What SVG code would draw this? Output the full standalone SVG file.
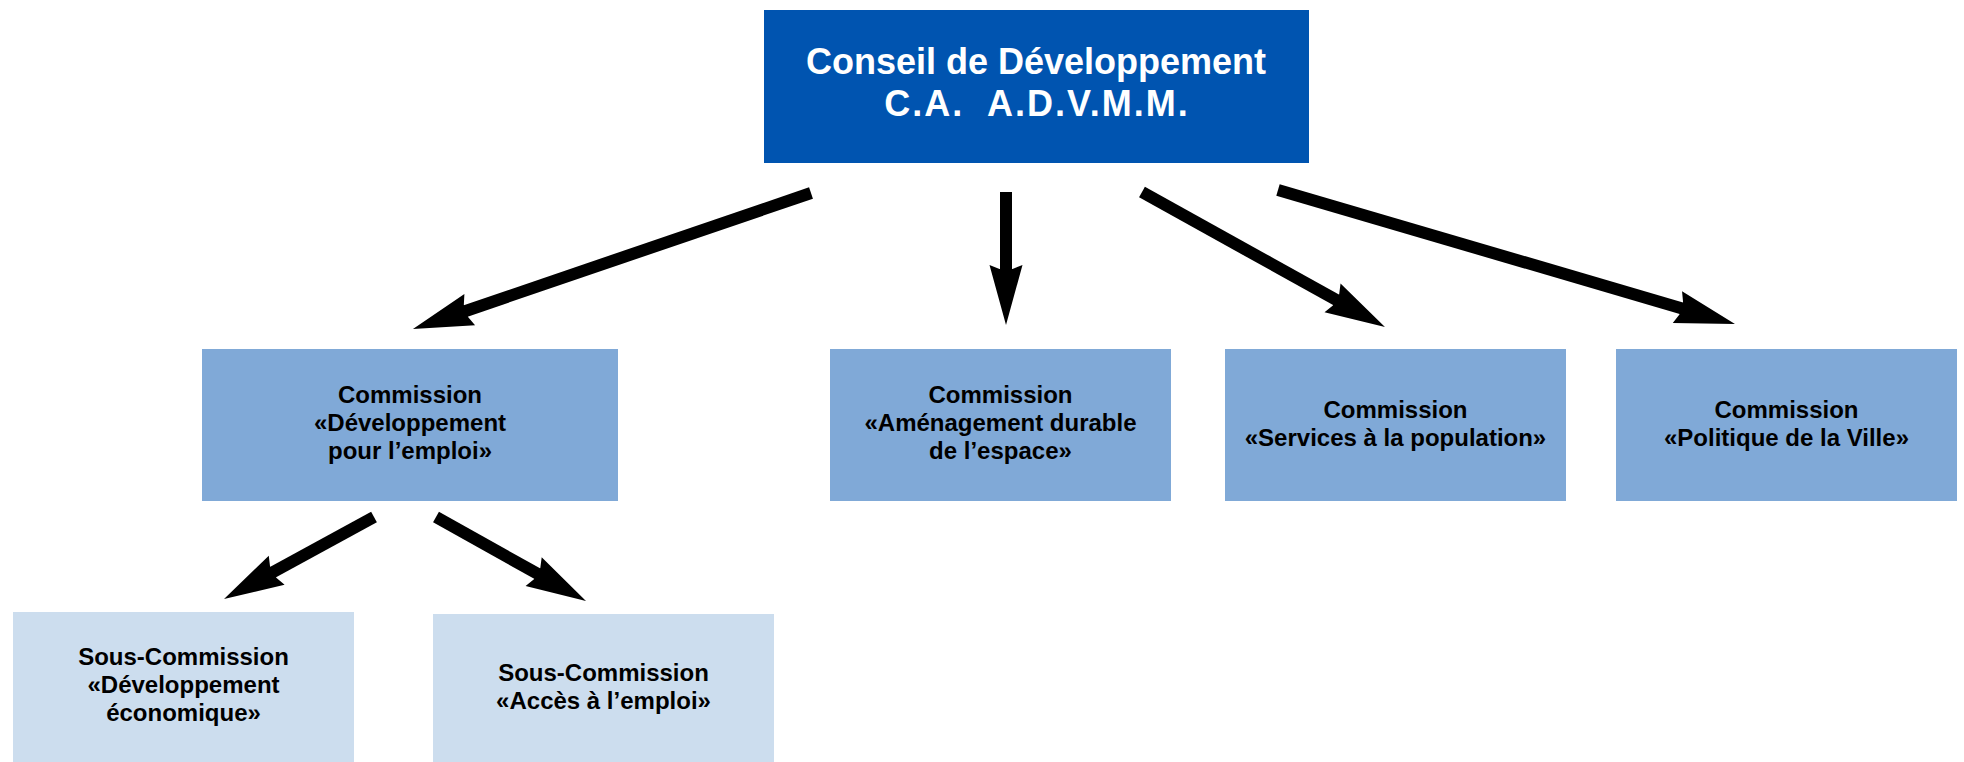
<svg xmlns="http://www.w3.org/2000/svg" width="1964" height="762" viewBox="0 0 1964 762">
  <style>
    .top { fill: #0054B0; }
    .com { fill: #80A9D7; }
    .sub { fill: #CCDDEE; }
    .title { font-family: "Liberation Sans", Arial, sans-serif; font-weight: bold; font-size: 36px; fill: #FFFFFF; text-anchor: middle; }
    .label { font-family: "Liberation Sans", Arial, sans-serif; font-weight: bold; font-size: 24px; fill: #000000; text-anchor: middle; }
    .arrow { stroke: #000000; stroke-width: 12; fill: none; stroke-linecap: butt; marker-end: url(#head); }
  </style>
  <defs>
    <!-- barbed arrowhead; the line ends at the neck, the tip sits 55 units further on -->
    <marker id="head" markerUnits="userSpaceOnUse" orient="auto" refX="0" refY="0" markerWidth="80" markerHeight="40" overflow="visible">
      <path d="M55,0 L-5,-16.5 L-1,-6.5 L-1,6.5 L-5,16.5 Z" fill="#000000"/>
    </marker>
  </defs>

  <rect width="1964" height="762" fill="#FFFFFF"/>

  <g id="conseil">
    <rect class="top" x="764" y="10" width="545" height="153"/>
    <text class="title" x="1036" y="74">Conseil de Développement</text>
    <text class="title" x="1037" y="116" xml:space="preserve" style="letter-spacing:2px">C.A.  A.D.V.M.M.</text>
  </g>

  <g id="commission-emploi">
    <rect class="com" x="202" y="349" width="416" height="152"/>
    <text class="label" x="410" y="403">Commission</text>
    <text class="label" x="410" y="431">«Développement</text>
    <text class="label" x="410" y="459">pour l’emploi»</text>
  </g>

  <g id="commission-amenagement">
    <rect class="com" x="830" y="349" width="341" height="152"/>
    <text class="label" x="1000.5" y="403">Commission</text>
    <text class="label" x="1000.5" y="431">«Aménagement durable</text>
    <text class="label" x="1000.5" y="459">de l’espace»</text>
  </g>

  <g id="commission-services">
    <rect class="com" x="1225" y="349" width="341" height="152"/>
    <text class="label" x="1395.5" y="418">Commission</text>
    <text class="label" x="1395.5" y="446">«Services à la population»</text>
  </g>

  <g id="commission-ville">
    <rect class="com" x="1616" y="349" width="341" height="152"/>
    <text class="label" x="1786.5" y="418">Commission</text>
    <text class="label" x="1786.5" y="446">«Politique de la Ville»</text>
  </g>

  <g id="sous-commission-economique">
    <rect class="sub" x="13" y="612" width="341" height="150"/>
    <text class="label" x="183.5" y="665">Sous-Commission</text>
    <text class="label" x="183.5" y="693">«Développement</text>
    <text class="label" x="183.5" y="721">économique»</text>
  </g>

  <g id="sous-commission-acces">
    <rect class="sub" x="433" y="614" width="341" height="148"/>
    <text class="label" x="603.5" y="681">Sous-Commission</text>
    <text class="label" x="603.5" y="709">«Accès à l’emploi»</text>
  </g>

  <g id="connectors">
    <line class="arrow" x1="811" y1="193" x2="465" y2="311.2"/>
    <line class="arrow" x1="1006" y1="192" x2="1006" y2="270"/>
    <line class="arrow" x1="1142" y1="192" x2="1336.9" y2="300.3"/>
    <line class="arrow" x1="1278" y1="190" x2="1682.2" y2="308.5"/>
    <line class="arrow" x1="374" y1="517" x2="272.3" y2="572.6"/>
    <line class="arrow" x1="436" y1="517" x2="538" y2="574.1"/>
  </g>
</svg>
